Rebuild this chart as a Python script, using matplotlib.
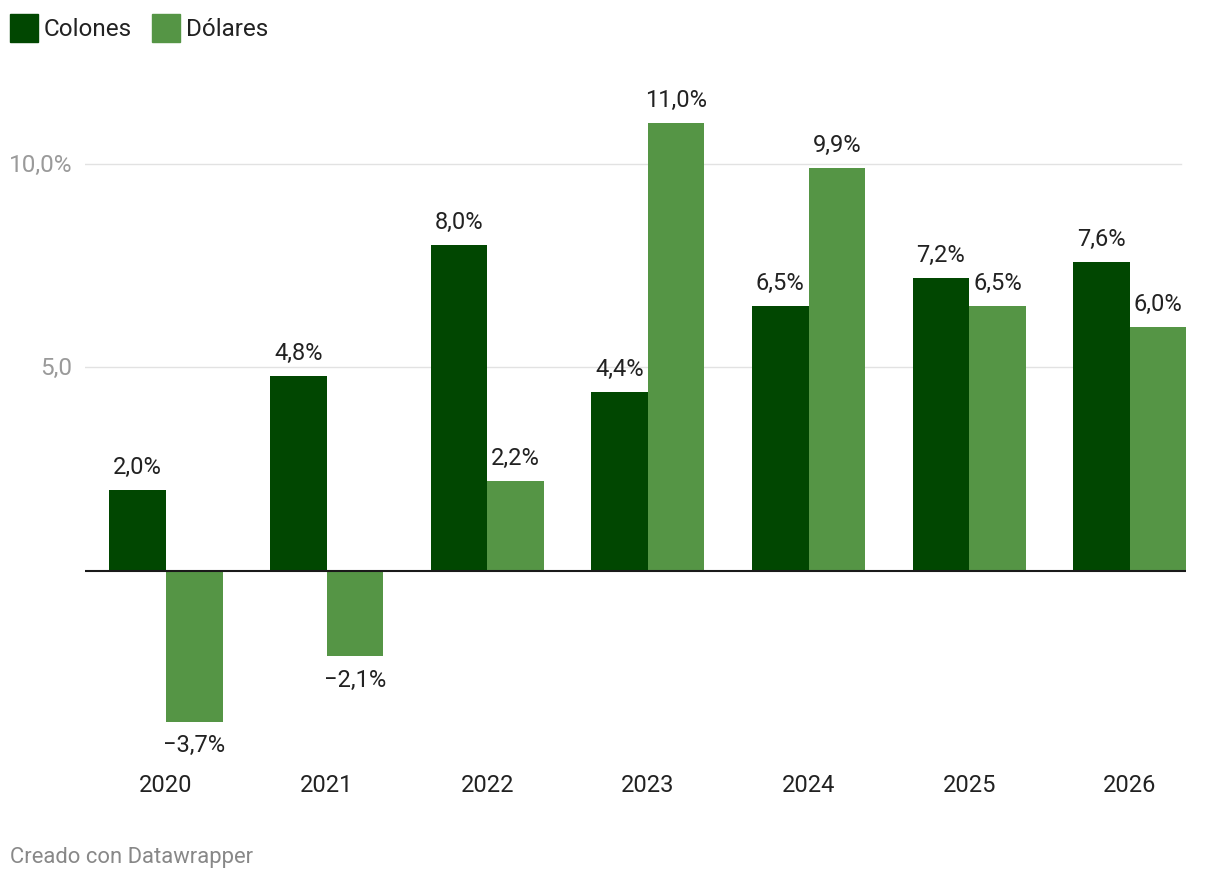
import matplotlib
matplotlib.use("Agg")
import matplotlib.pyplot as plt
from matplotlib.patches import Rectangle
import numpy as np

plt.rcParams['font.family'] = ['Roboto', 'DejaVu Sans']

# === Datos ===
years = ["2020", "2021", "2022", "2023", "2024", "2025", "2026"]
colones = [2.0, 4.8, 8.0, 4.4, 6.5, 7.2, 7.6]
dolares = [-3.7, -2.1, 2.2, 11.0, 9.9, 6.5, 6.0]
series_names = ["Colones", "Dólares"]

DARK = "#014701"
LIGHT = "#559545"
W, H = 1220, 882

fig = plt.figure(figsize=(W / 100, H / 100), dpi=100)

# axes en pixeles: izquierda 85, derecha 1186, arriba 90, abajo 760
left, right, top, bottom = 85, 1186, 90, 760
ax = fig.add_axes([left / W, 1 - bottom / H, (right - left) / W, (bottom - top) / H])

px_per_unit = 40.7
ax.set_ylim(-(bottom - 571) / px_per_unit, (571 - top) / px_per_unit)
ax.set_xlim(-0.504, 6.35)

x = np.arange(len(years))
bw = 0.352
ax.bar(x - bw / 2, colones, bw, color=DARK, zorder=3)
ax.bar(x + bw / 2, dolares, bw, color=LIGHT, zorder=3)


def fmt(v):
    s = f"{abs(v):.1f}".replace(".", ",") + "%"
    return ("\u2212" + s) if v < 0 else s


for xs, vals in ((x - bw / 2, colones), (x + bw / 2, dolares)):
    for xi, v in zip(xs, vals):
        off = 16.2 if v >= 0 else -17.3
        ax.annotate(fmt(v), (xi, v), xytext=(0, off), textcoords="offset points",
                    ha="center", va="center", fontsize=17, color="#222222")

# rejilla
for yv in (5, 10):
    ax.plot([-0.504, 6.32], [yv, yv], color="#e2e2e2", lw=1.0, zorder=1)
ax.axhline(0, color="#1a1a1a", lw=1.5, zorder=4)

for s in ax.spines.values():
    s.set_visible(False)
ax.set_xticks([])
ax.set_yticks([])

# etiquetas eje y
for yv, lab in ((10, "10,0%"), (5, "5,0")):
    ax.annotate(lab, (-0.504, yv), xytext=(-13, -1), textcoords="offset pixels",
                ha="right", va="center", fontsize=17.5, color="#9a9a9a",
                annotation_clip=False)

# etiquetas de años
for xi, yr in zip(x, years):
    fig.text((left + (xi + 0.504) * (right - left) / 6.854) / W, 1 - 786 / H, yr,
             ha="center", va="center", fontsize=17, color="#222222")

# leyenda
for (x0, tx), name, col in zip(((10, 44), (152, 186)), series_names, (DARK, LIGHT)):
    fig.patches.append(Rectangle((x0 / W, 1 - 42 / H), 28 / W, 28 / H,
                                 transform=fig.transFigure, color=col))
    fig.text(tx / W, 1 - 29 / H, name, ha="left", va="center",
             fontsize=17.5, color="#222222")

fig.text(10 / W, 1 - 858 / H, "Creado con Datawrapper", ha="left", va="center",
         fontsize=15.8, color="#888888")

fig.savefig("out.png", dpi=100)
